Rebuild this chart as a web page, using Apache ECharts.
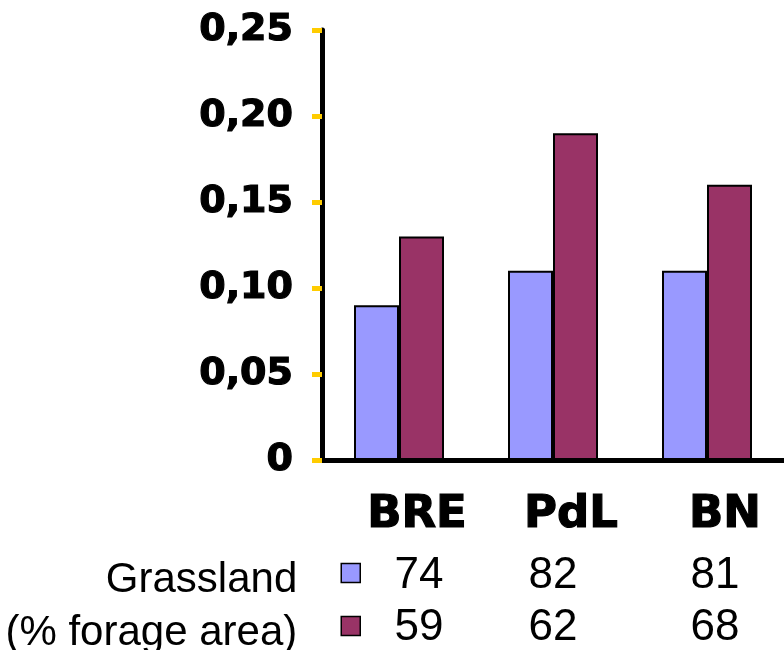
<!DOCTYPE html>
<html>
<head>
<meta charset="utf-8">
<script src="https://cdn.jsdelivr.net/npm/echarts@6/dist/echarts.min.js"></script>
<style>html,body{margin:0;padding:0;background:#fff}#c{width:784px;height:650px}</style>
</head>
<body>
<div id="c"></div>
<script>
var categories = ['BRE', 'PdL', 'BN'];
var seriesNames = ['Grassland', '(% forage area)'];
var valuesA = [0.09, 0.11, 0.11];
var valuesB = [0.13, 0.19, 0.16];
var rowA = [74, 82, 81];
var rowB = [59, 62, 68];

function legendFor(name, top) {
  return {
    orient: 'horizontal',
    right: 423,
    top: top,
    padding: 0,
    align: 'right',
    itemWidth: 19,
    itemHeight: 33,
    icon: 'path://M0,0L19,0L19,19L0,19Z M0,33',
    selectedMode: false,
    itemStyle: { borderColor: '#000', borderWidth: 1.5 },
    textStyle: {
      fontFamily: 'Liberation Sans', fontSize: 42, color: '#000',
      lineHeight: 44, padding: [0, 39, 0, 0]
    },
    data: [name]
  };
}

var valuePad = [40, 0, 16];
var valueStyle = function (p) {
  return { fontFamily: 'Liberation Sans', fontSize: 44, lineHeight: 52, color: '#000', padding: [0, 0, 0, p] };
};

var chart = echarts.init(document.getElementById('c'));
chart.setOption({
  animation: false,
  backgroundColor: '#ffffff',
  grid: { left: 322, right: 0, top: 30, bottom: 190 },
  legend: [legendFor(seriesNames[0], 558), legendFor(seriesNames[1], 611)],
  xAxis: {
    type: 'category',
    data: categories,
    axisLine: { lineStyle: { color: '#000', width: 5 } },
    axisTick: { show: false },
    axisLabel: {
      margin: 20,
      interval: 0,
      formatter: function (v, i) {
        return '{c|' + v + '}\n{v' + i + '|' + rowA[i] + '}\n{v' + i + '|' + rowB[i] + '}';
      },
      rich: {
        c: { fontFamily: 'DejaVu Sans', fontWeight: 'bold', fontSize: 45, lineHeight: 70, color: '#000', textBorderColor: '#000', textBorderWidth: 1.2, padding: [0, 0, 0, 36] },
        v0: valueStyle(valuePad[0]),
        v1: valueStyle(valuePad[1]),
        v2: valueStyle(valuePad[2])
      }
    }
  },
  yAxis: {
    type: 'value',
    min: 0,
    max: 0.25,
    interval: 0.05,
    axisLine: { show: true, lineStyle: { color: '#000', width: 5 } },
    axisTick: { show: true, length: 10, lineStyle: { color: '#FFCC00', width: 5 } },
    splitLine: { show: false },
    axisLabel: {
      margin: 29,
      fontFamily: 'DejaVu Sans',
      fontWeight: 'bold',
      fontSize: 38,
      color: '#000',
      textBorderColor: '#000',
      textBorderWidth: 1.2,
      formatter: function (v) {
        return v === 0 ? '0' : v.toFixed(2).replace('.', ',');
      }
    }
  },
  series: [
    {
      name: seriesNames[0], type: 'bar', data: valuesA,
      barWidth: 45, barGap: '0%',
      itemStyle: { color: '#9999FF', borderColor: '#000', borderWidth: 2 }
    },
    {
      name: seriesNames[1], type: 'bar', data: valuesB,
      barWidth: 45, barGap: '0%',
      itemStyle: { color: '#993366', borderColor: '#000', borderWidth: 2 }
    }
  ]
});
</script>
</body>
</html>
